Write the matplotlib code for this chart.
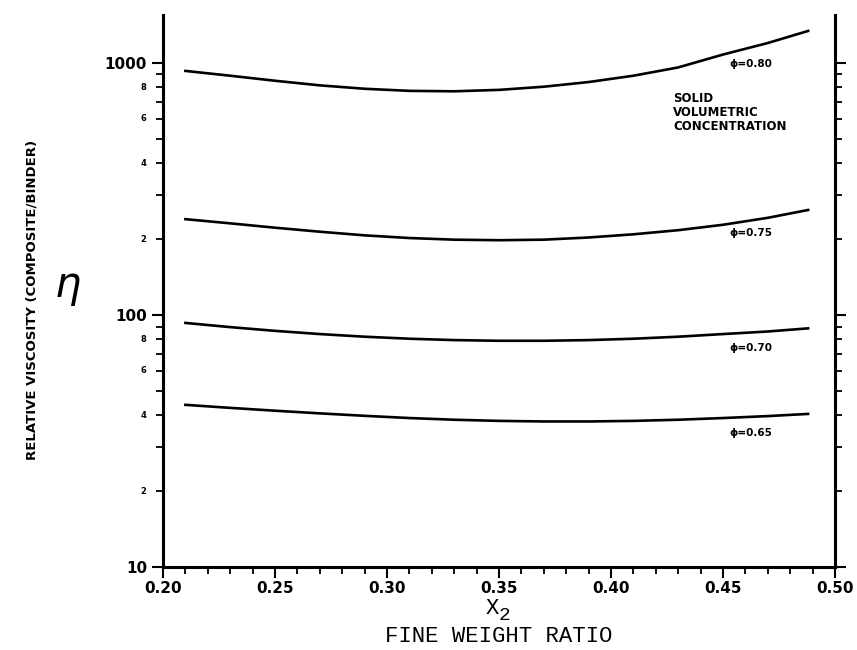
import numpy as np
import matplotlib.pyplot as plt
from matplotlib.ticker import FixedLocator, NullFormatter

# fine weight ratio X2 and relative viscosity for each solid concentration
x2 = [0.21, 0.23, 0.25, 0.27, 0.29, 0.31, 0.33, 0.35, 0.37, 0.39, 0.41, 0.43, 0.45, 0.47, 0.488]
eta_080 = [930, 890, 850, 815, 790, 775, 772, 782, 805, 840, 890, 960, 1080, 1200, 1340]
eta_075 = [240, 231, 222, 214, 207, 202, 199, 198, 199, 203, 209, 217, 228, 243, 261]
eta_070 = [93, 89.5, 86.5, 84, 82, 80.5, 79.5, 79, 79, 79.5, 80.5, 82, 84, 86, 88.5]
eta_065 = [44, 42.8, 41.7, 40.7, 39.8, 39.0, 38.4, 38.0, 37.8, 37.8, 38.0, 38.4, 39.0, 39.7, 40.5]

labels = ["ϕ=0.80", "ϕ=0.75", "ϕ=0.70", "ϕ=0.65"]
label_y = [990, 211, 74, 34]

fig = plt.figure(figsize=(8.57, 6.5), dpi=100)
ax = fig.add_axes([163/857, 1 - 567/650, 672/857, 552/650])

for eta in (eta_080, eta_075, eta_070, eta_065):
    ax.plot(x2, eta, color="black", lw=1.9)

for lab, yy in zip(labels, label_y):
    ax.text(0.453, yy, lab, fontsize=7.5, fontweight="bold", va="center")

ax.text(0.759, 0.86, "SOLID\nVOLUMETRIC\nCONCENTRATION", transform=ax.transAxes,
        fontsize=8.5, fontweight="bold", va="top", linespacing=1.1)

ax.set_yscale("log")
ax.set_xlim(0.20, 0.50)
ax.set_ylim(10, 1550)

# y ticks: decades labelled, 2/4/6/8 with small labels
ax.yaxis.set_major_locator(FixedLocator([10, 100, 1000]))
ax.set_yticklabels(["10", "100", "1000"], fontsize=11, fontweight="bold")
minors = [m * d for d in (10, 100) for m in range(2, 10)]
ax.yaxis.set_minor_locator(FixedLocator(minors))
ax.yaxis.set_minor_formatter(NullFormatter())
for m in (2, 4, 6, 8):
    for d in (10, 100):
        ax.text(-0.025, m * d, str(m), transform=ax.get_yaxis_transform(),
                fontsize=6, fontweight="bold", ha="right", va="center")
ax.tick_params(axis="y", which="major", direction="out", length=8, width=1.5,
               right=True)
ax.tick_params(axis="y", which="minor", direction="out", length=5, width=1.3,
               right=True)

xt = [0.20, 0.25, 0.30, 0.35, 0.40, 0.45, 0.50]
ax.set_xticks(xt)
ax.set_xticklabels(["%.2f" % v for v in xt], fontsize=11, fontweight="bold")
ax.set_xticks(np.arange(0.20, 0.501, 0.01), minor=True)
ax.tick_params(axis="x", which="major", direction="out", length=8, width=1.5, pad=2)
ax.tick_params(axis="x", which="minor", direction="out", length=5, width=1.3)

ax.spines["top"].set_visible(False)
for s in ("left", "right", "bottom"):
    ax.spines[s].set_linewidth(2.2)

xc = (163 + 835) / 2 / 857
fig.text(xc, 1 - 608/650, "X", ha="right", va="center", fontsize=16,
         family="Liberation Mono")
fig.text(xc, 1 - 615/650, "2", ha="left", va="center", fontsize=14,
         family="Liberation Mono")
fig.text(xc, 1 - 637/650, "FINE WEIGHT RATIO", ha="center", va="center",
         fontsize=16, family="Liberation Mono")

fig.text(32/857, 1 - 300/650, "RELATIVE VISCOSITY (COMPOSITE/BINDER)", rotation=90,
         ha="center", va="center", fontsize=9.5, fontweight="bold")
fig.text(68/857, 1 - 287/650, "$\\eta$", ha="center", va="center", fontsize=30)

fig.savefig("out.png", dpi=100)
